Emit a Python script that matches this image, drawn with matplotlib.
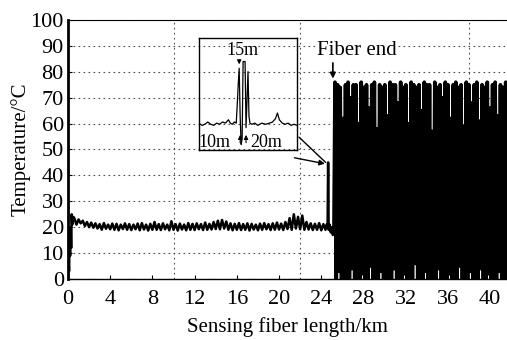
import numpy as np
import matplotlib
matplotlib.use('Agg')
import matplotlib.pyplot as plt

plt.rcParams['font.family'] = ['Liberation Serif', 'DejaVu Serif']

# --- data ---
# launch section (km, degC)
start_km = [0.0, 0.05, 0.1, 0.15, 0.2, 0.25, 0.3, 0.35, 0.4, 0.5]
start_T = [0, 8, 3, 14, 9, 20, 12, 25, 21, 24]

# room temperature section, sampled every 0.2 km from 0.6 to 24.4 km
band_T = [23.5, 21.0, 23.0, 21.5, 22.5, 20.5, 22.0, 20.0, 21.8, 19.8,
          21.5, 19.5, 21.2, 19.0, 21.6, 19.4, 21.0, 19.2, 21.4, 19.0,
          21.3, 18.8, 21.0, 19.3, 21.5, 19.0, 21.2, 18.9, 21.0, 19.2,
          21.4, 18.8, 21.6, 19.1, 21.0, 18.7, 21.3, 19.0, 22.0, 19.0,
          21.2, 18.9, 21.5, 19.2, 21.0, 18.8, 22.3, 19.0, 21.2, 18.7,
          21.4, 19.1, 21.0, 18.8, 21.6, 19.0, 21.3, 18.9, 21.5, 19.2,
          21.2, 18.9, 21.8, 19.0, 21.3, 19.1, 22.0, 19.3, 22.5, 19.2,
          22.8, 19.5, 22.2, 19.0, 21.5, 18.8, 21.3, 19.0, 21.6, 18.9,
          21.2, 19.0, 21.5, 18.7, 21.3, 19.1, 21.0, 18.8, 21.4, 19.0,
          21.6, 19.2, 21.2, 18.9, 21.5, 19.0, 21.8, 19.1, 21.4, 18.9,
          22.0, 19.3, 23.5, 19.0, 25.0, 19.5, 24.0, 19.2, 24.5, 19.0,
          22.0, 19.1, 21.5, 18.9, 21.3, 19.0, 21.6, 18.8, 21.2, 19.0]
band_km = np.linspace(0.6, 24.4, len(band_T))

# hot spot just before the fiber end
end_km = [24.5, 24.6, 24.65, 24.7, 24.8, 24.9, 25.0, 25.1, 25.2]
end_T = [21, 20, 45, 19, 21, 18, 20, 17, 19]

# noise after the fiber end, 25.3 .. 41.6 km
noise_T = [76, -2, 75, 3, 74, -2, 62, -2, 75, 0, 76, -2, 70, 4, 75, -2, 75, -2, 60, -2,
           76, 2, 74, -2, 75, -2, 66, 5, 75, -2, 76, -2, 58, -2, 75, 3, 74, -2, 75, -2,
           63, -2, 76, -2, 75, 4, 75, -2, 68, -2, 76, -2, 74, 2, 75, -2, 60, -2, 76, -2,
           75, 6, 74, -2, 75, -2, 65, -2, 76, 3, 75, -2, 75, -2, 57, -2, 76, -2, 74, 4,
           75, -2, 70, -2, 76, -2, 75, 2, 62, -2, 75, -2, 76, -2, 74, 5, 75, -2, 59, -2,
           76, -2, 75, 3, 68, -2, 75, -2, 76, -2, 61, 4, 75, -2, 74, -2, 76, 2, 66, -2,
           75, -2, 76, -2, 63, 3, 75, -2, 74, -2, 76, -2]
noise_km = np.linspace(25.3, 41.6, len(noise_T))

# inset: zoom on the hot spot (position in m, arbitrary temperature scale)
inset_x = [0, 3, 6, 9, 12, 15, 18, 21, 24, 27, 30, 32, 34, 36, 38, 39, 40, 41, 42, 43,
           44, 45, 46, 47, 48, 49, 50, 51, 52, 54, 57, 60, 64, 68, 72, 75, 78, 80, 82, 85,
           88, 91, 94, 97, 100]
inset_T = [24, 22, 23, 25, 23, 22, 24, 23, 25, 24, 27, 24, 23, 25, 24, 40, 58, 73, 30, 5,
           10, 79, 79, 79, 20, 45, 70, 30, 24, 23, 24, 22, 24, 23, 24, 25, 28, 33, 27, 24,
           23, 24, 22, 23, 22]

xticks = [0, 4, 8, 12, 16, 20, 24, 28, 32, 36, 40]
yticks = [0, 10, 20, 30, 40, 50, 60, 70, 80, 90, 100]

km = np.concatenate([start_km, band_km, end_km])
temp = np.concatenate([start_T, band_T, end_T])

fig = plt.figure(figsize=(5.07, 3.40), dpi=100)
ax = fig.add_axes([0.1341, 0.1794, 0.8659, 0.7618])

ax.plot(km, temp, color='black', lw=1.8)
# noise past the end of the fiber, joined to the last real sample
ax.plot(np.concatenate([[end_km[-1]], noise_km]), np.concatenate([[end_T[-1]], noise_T]),
        color='black', lw=2.6)

ax.set_xlim(0, 41.6)
ax.set_ylim(0, 100)
ax.set_xticks(xticks)
ax.set_yticks(yticks)
ax.set_xticks([4, 10, 16, 22, 32, 38], minor=True)
ax.tick_params(which='major', direction='in', length=3, labelsize=16, pad=3)
ax.tick_params(axis='x', which='major', pad=8)
ax.tick_params(which='minor', length=0)
ax.grid(axis='y', which='major', color='0.3', ls=(0, (1.5, 3)), lw=0.8)
ax.grid(axis='x', which='minor', color='0.3', ls=(0, (1.5, 3)), lw=0.8)
ax.set_axisbelow(True)
ax.spines['right'].set_visible(False)
ax.spines['left'].set_linewidth(2)
ax.spines['top'].set_linewidth(0.8)
ax.spines['bottom'].set_linewidth(1.0)

ax.set_xlabel('Sensing fiber length/km', fontsize=15, labelpad=6)
ax.set_ylabel('Temperature/°C', fontsize=15, labelpad=0)

# fiber end label and arrow
ax.text(27.35, 88.4, 'Fiber end', fontsize=15, ha='center', va='center',
        bbox=dict(facecolor='white', edgecolor='none', pad=0.5))
ax.annotate('', xy=(25.1, 76.3), xytext=(25.1, 84.5),
            arrowprops=dict(arrowstyle='-|>', color='black', lw=1.2, mutation_scale=8))

# lines from the inset to the hot spot
ax.annotate('', xy=(24.6, 44.3), xytext=(21.7, 55.5),
            arrowprops=dict(arrowstyle='-', color='black', lw=1.0))
ax.annotate('', xy=(24.6, 44.3), xytext=(21.2, 47.0),
            arrowprops=dict(arrowstyle='-|>', color='black', lw=1.0, mutation_scale=8))

# inset
ins = fig.add_axes([0.3925, 0.5588, 0.1933, 0.3294])
ins.set_facecolor('none')
ins.plot(inset_x, inset_T, color='black', lw=0.9)
ins.set_xlim(0, 100)
ins.set_ylim(0, 100)
ins.set_xticks([])
ins.set_yticks([])
for s in ins.spines.values():
    s.set_linewidth(1.0)
ins.text(44.4, 89, '15m', fontsize=13, ha='center', va='center')
ins.text(16, 7, '10m', fontsize=13, ha='center', va='center')
ins.text(69, 7, '20m', fontsize=13, ha='center', va='center')
ins.annotate('', xy=(41, 74), xytext=(41, 83),
             arrowprops=dict(arrowstyle='-|>', color='black', lw=0.8, mutation_scale=6))
ins.annotate('', xy=(42, 16), xytext=(42, 4),
             arrowprops=dict(arrowstyle='-|>', color='black', lw=0.8, mutation_scale=6))
ins.annotate('', xy=(48, 16), xytext=(48, 4),
             arrowprops=dict(arrowstyle='-|>', color='black', lw=0.8, mutation_scale=6))

fig.savefig('out.png', dpi=100)
